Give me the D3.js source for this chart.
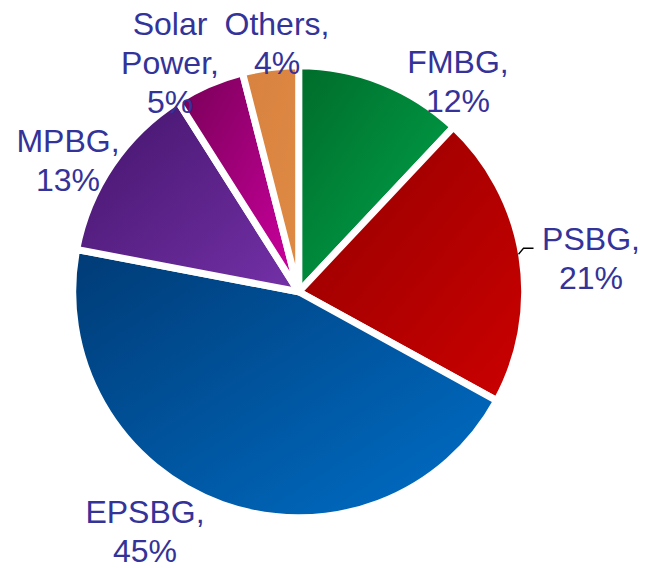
<!DOCTYPE html>
<html>
<head>
<meta charset="utf-8">
<script src="https://cdn.jsdelivr.net/npm/d3@7"></script>
<style>
  html, body { margin: 0; padding: 0; background: #fff; }
  svg { display: block; }
</style>
</head>
<body>
<script>
"use strict"

// chart data, clockwise from 12 o'clock
const categories = ['FMBG', 'PSBG', 'EPSBG', 'MPBG', 'Solar Power', 'Others'];
const shares = [12, 21, 45, 13, 5, 4];
const labelLines = [['FMBG,'], ['PSBG,'], ['EPSBG,'], ['MPBG,'], ['Solar', 'Power,'], ['Others,']];

// colours: [dark top-left, light bottom-right]
const sliceColors = [
	['#006c2b', '#00a84c'],
	['#930000', '#cc0000'],
	['#003b76', '#006fc8'],
	['#43146a', '#7431a8'],
	['#770056', '#d000a2'],
	['#d98240', '#de8a44']
];

// label anchors (centre x, first baseline)
const labelAnchors = [[458, 73], [591, 250], [145, 523], [68, 152], [170, 35], [277, 35]];

const w = 648;
const h = 568;
const cx = 298.7;
const cy = 291.8;
const radius = 226;
const lineGap = 39;

const mySvg = d3.select('body')
	.append('svg')
	.attr('width', w)
	.attr('height', h)
	.style('background-color', '#fff');

const defs = mySvg.append('defs');
sliceColors.forEach((c, i) => {
	const g = defs.append('linearGradient')
		.attr('id', 'grad' + i)
		.attr('x1', 0).attr('y1', 0)
		.attr('x2', 1).attr('y2', 1);
	g.append('stop').attr('offset', '0%').attr('stop-color', c[0]);
	g.append('stop').attr('offset', '100%').attr('stop-color', c[1]);
});

const pie = d3.pie().sort(null).value(d => d)
	.startAngle(0).endAngle(2 * Math.PI);
const arcs = pie(shares);

const arc = d3.arc().innerRadius(0).outerRadius(radius);

const pieG = mySvg.append('g')
	.attr('transform', 'translate(' + cx + ',' + cy + ')');

pieG.selectAll('path')
	.data(arcs)
	.enter()
	.append('path')
	.attr('d', arc)
	.attr('fill', (d, i) => 'url(#grad' + i + ')')
	.attr('stroke', '#fff')
	.attr('stroke-width', 7)
	.attr('stroke-linejoin', 'round');

// leader line for PSBG
const leadAngle = 80.3 * Math.PI / 180;
const lx = cx + (radius - 3) * Math.sin(leadAngle);
const ly = cy - (radius - 3) * Math.cos(leadAngle);
mySvg.append('path')
	.attr('d', 'M' + lx + ',' + ly + 'L' + (lx + 5) + ',' + (ly - 6) + 'L' + (lx + 15) + ',' + (ly - 6))
	.attr('fill', 'none')
	.attr('stroke', '#000')
	.attr('stroke-width', 1.3);

// labels
const labels = mySvg.selectAll('text.lbl')
	.data(categories)
	.enter()
	.append('text')
	.attr('class', 'lbl')
	.attr('text-anchor', 'middle')
	.attr('font-family', '"Liberation Sans", Arial, sans-serif')
	.attr('font-size', 32)
	.attr('fill', '#333399');

labels.each(function (d, i) {
	const lines = labelLines[i].concat([shares[i] + '%']);
	const t = d3.select(this);
	t.selectAll('tspan')
		.data(lines)
		.enter()
		.append('tspan')
		.attr('x', labelAnchors[i][0])
		.attr('y', (s, j) => labelAnchors[i][1] + j * lineGap)
		.text(s => s);
});
</script>
</body>
</html>
